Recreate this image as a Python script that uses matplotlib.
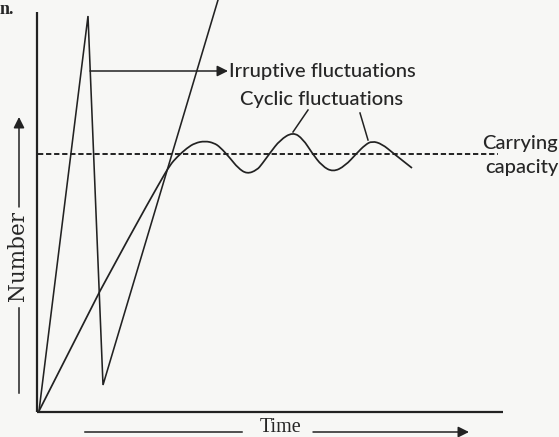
import matplotlib
matplotlib.use("Agg")
import matplotlib.pyplot as plt
from matplotlib.patches import FancyArrowPatch, PathPatch
from matplotlib.path import Path

# ---- data (Time, Number) in arbitrary schematic units; origin at axes corner ----
# Irruptive fluctuations (sharp spikes)
irr_time = [1, 50, 65, 180]
irr_num = [0, 395, 26, 411]

# Logistic growth followed by cyclic fluctuations about the carrying capacity
cyc_time = [1, 62, 95, 122, 132, 139, 149, 157, 167, 176, 182, 192, 200, 209, 219,
            224, 232, 242, 255, 265, 274, 284, 295, 307, 319, 327, 334, 344, 355, 374]
cyc_num = [0, 120, 181, 229, 246, 254, 263, 268, 270, 268, 264, 253, 243, 237, 241,
           247, 258, 271, 279, 272, 258, 245, 239, 245, 258, 266, 270, 267, 258, 243]

carrying_capacity = 257
time_end = 465
num_end = 399

# annotation anchors
cyc_peaks_t = [255, 330]
cyc_peaks_n = [279, 271]
cyc_label_t = [270, 322]
cyc_label_n = [301, 298]

INK = "#222222"
TXT = "#262626"
BG = "#f7f7f5"

plt.rcParams['lines.scale_dashes'] = False
fig = plt.figure(figsize=(5.59, 4.37), dpi=100, facecolor=BG)
ax = fig.add_axes([0, 0, 1, 1])
ax.set_facecolor(BG)
ax.set_xlim(-38, 521)
ax.set_ylim(-26, 411)
ax.axis("off")

# axes
ax.plot([-1, -1], [-1, num_end], color=INK, lw=1.6, solid_capstyle="butt")
ax.plot([-1.5, time_end], [-1, -1], color=INK, lw=1.6, solid_capstyle="butt")

# carrying capacity
ax.plot([0, 460], [carrying_capacity, carrying_capacity], color=INK, lw=1.4,
        linestyle=(0, (3.8, 2.0)))

# curves
ax.plot(irr_time, irr_num, color=INK, lw=1.15, solid_joinstyle="miter")

# smooth path through the read points (quadratic segments via midpoints)
pts = list(zip(cyc_time, cyc_num))
verts = [pts[0], pts[1]]
codes = [Path.MOVETO, Path.LINETO]
for i in range(2, len(pts) - 1):
    mid = ((pts[i][0] + pts[i + 1][0]) / 2, (pts[i][1] + pts[i + 1][1]) / 2)
    verts += [pts[i], mid]
    codes += [Path.CURVE3, Path.CURVE3]
verts.append(pts[-1])
codes.append(Path.LINETO)
ax.add_patch(PathPatch(Path(verts, codes), facecolor="none", edgecolor=INK, lw=1.25,
                       joinstyle="round"))

# irruptive label + arrow
arr = FancyArrowPatch((52, 340), (190, 340), arrowstyle="-|>,head_length=5,head_width=2.5",
                      color=INK, lw=1.1, mutation_scale=1.3, shrinkA=0, shrinkB=0)
ax.add_patch(arr)
ann_font = ["Lato", "DejaVu Sans"]
ax.text(191, 340, "Irruptive fluctuations", family=ann_font, fontsize=14.5, color=TXT,
        ha="left", va="center", fontweight="medium")
ax.text(284, 311, "Cyclic fluctuations", family=ann_font, fontsize=14.5, color=TXT,
        ha="center", va="center", fontweight="medium")
for pt, pn, lt, ln in zip(cyc_peaks_t, cyc_peaks_n, cyc_label_t, cyc_label_n):
    ax.plot([lt, pt], [ln, pn], color=INK, lw=1.1)

ax.text(444, 268, "Carrying", family=ann_font, fontsize=14.5, color=TXT, ha="left",
        va="center", fontweight="medium")
ax.text(447, 244, "capacity", family=ann_font, fontsize=14.5, color=TXT, ha="left",
        va="center", fontweight="medium")

# Y label with arrow
ax.text(-20, 155, "Number", family=["DejaVu Serif"], fontsize=15.5, color=TXT,
        rotation=90, ha="center", va="center")
ax.plot([-19, -19], [18, 103], color=INK, lw=1.1)
arr = FancyArrowPatch((-19, 204), (-19, 294), arrowstyle="-|>,head_length=5,head_width=2.5",
                      color=INK, lw=1.1, mutation_scale=1.3, shrinkA=0, shrinkB=0)
ax.add_patch(arr)

# X label with arrow
ax.text(243, -17, "Time", family=["Liberation Serif"], fontsize=14.5, color=TXT,
        ha="center", va="center")
ax.plot([47, 204], [-21, -21], color=INK, lw=1.1)
arr = FancyArrowPatch((275, -21), (431, -21), arrowstyle="-|>,head_length=5,head_width=2.5",
                      color=INK, lw=1.1, mutation_scale=1.3, shrinkA=0, shrinkB=0)
ax.add_patch(arr)

# fragment of page text
ax.text(-38, 402, "n.", family=["Liberation Serif"], fontsize=13, fontweight="bold",
        color=TXT, ha="left", va="center")

fig.savefig("out.png", dpi=100, facecolor=BG)
